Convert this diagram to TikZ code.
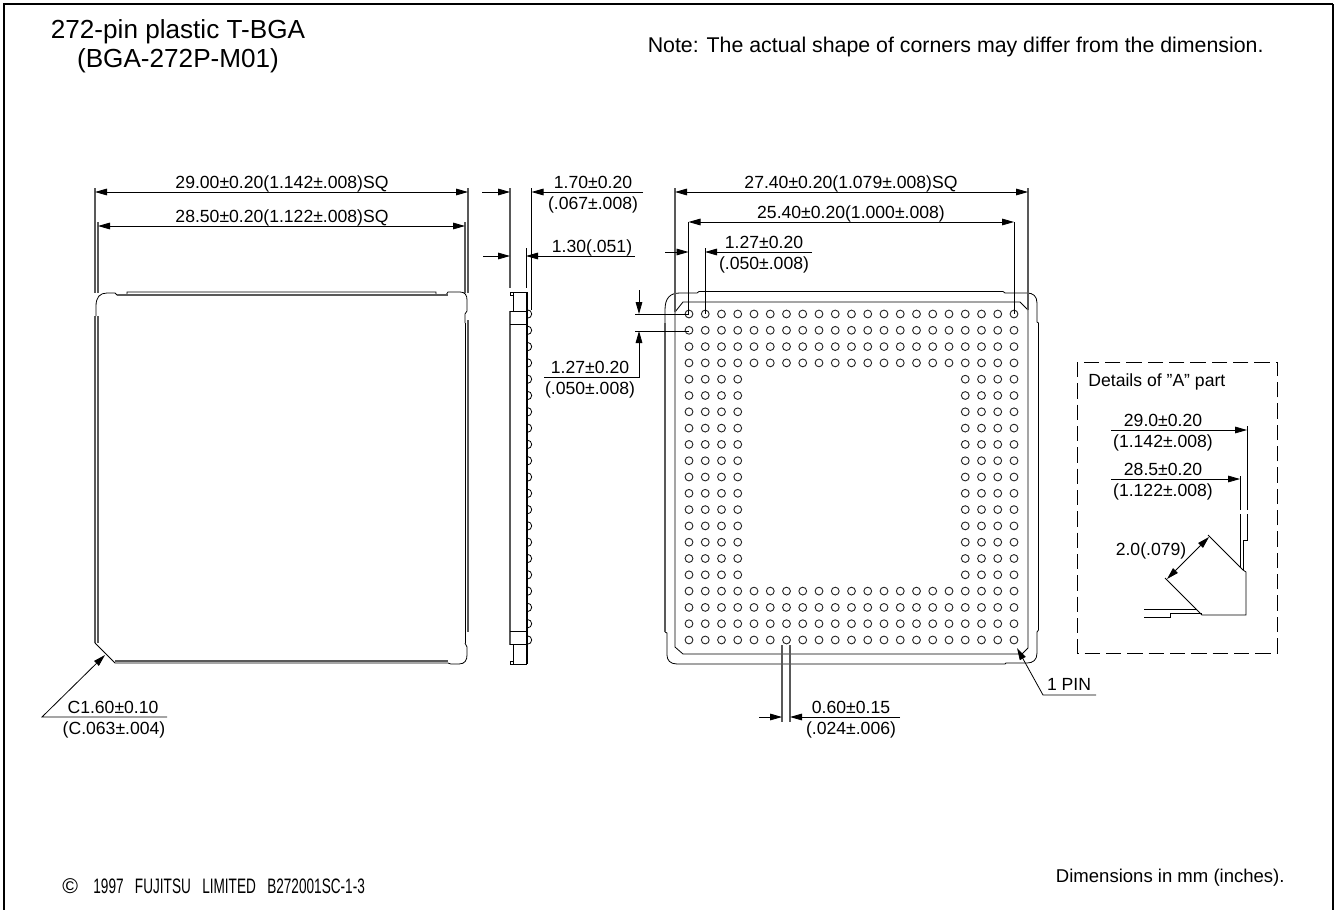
\documentclass[tikz,border=0pt]{standalone}
\usepackage{fontspec}
\setmainfont{Liberation Sans}
\newfontfamily\narrowfont[FakeStretch=0.65]{Liberation Sans}
\usetikzlibrary{arrows.meta}

\begin{document}
\begin{tikzpicture}[x=.75pt,y=-.75pt,line width=.6pt,
	lbl/.style={anchor=base,inner sep=0pt,font=\fontsize{13.2}{15}\selectfont},
	big/.style={anchor=base,inner sep=0pt,font=\fontsize{19.6}{22}\selectfont},
	ext/.style={line width=.8pt,black!65},
	dim/.style={-{Triangle[length=9pt,width=5pt]}},
	twodim/.style={{Triangle[length=9pt,width=5pt]}-{Triangle[length=9pt,width=5pt]}}]
		\useasboundingbox (0,0) rectangle (1335,910);
		% frame
		\draw[line width=1.8pt] (4,910) -- (4,4) -- (1333,4);
		\draw[line width=1pt] (1333,4) -- (1333,910);
		% headings
		\node[big] (title) at (178,38) {272-pin plastic T-BGA};
		\node[big] (code) at (178,67) {(BGA-272P-M01)};
		\node[lbl,anchor=base east,font=\fontsize{16}{18}\selectfont] (note) at (1264,52) {Note: The actual shape of corners may differ from the dimension.};
		\node[lbl,anchor=base east,font=\fontsize{13.9}{16}\selectfont] (units) at (1285,882) {Dimensions in mm (inches).};
		\node[lbl,anchor=base west,font=\fontsize{16}{18}\selectfont] (copy) at (62,893) {©};
		\node[lbl,anchor=base west,font=\narrowfont\fontsize{15.7}{18}\selectfont] (firm) at (93,893) {1997\ \ \ FUJITSU\ \ \ LIMITED\ \ \ B272001SC-1-3};
		% top view
		\draw[ext] (95,188) -- (95,293) (95,316) -- (95,643) (98,222) -- (98,293) (98,316) -- (98,643);
		\draw[ext] (468,188) -- (468,293) (468,320) -- (468,632) (465,222) -- (465,293);
		\draw (465,323) -- (465,643);
		\draw (96,316) -- (96,306) .. controls (96,297) and (100,293) .. (107,293) -- (115,293) -- (117,295) -- (127,295) -- (127,292) -- (436,292)
		-- (436,295) -- (446,295) -- (448,292) -- (460,292) .. controls (465,292) and (467,295) .. (467,300) -- (467,311) -- (465,314) -- (465,323);
		\draw[ext] (117,295) -- (448,295);
		\draw (95,643) -- (115,663) -- (448,663) -- (451,664) -- (459,664) .. controls (465,664) and (467,660) .. (467,655) -- (467,647) -- (465,643);
		\draw[ext] (115,661) -- (448,661);
		% side view
		\draw[ext] (510,188) -- (510,288) (510,311) -- (510,645);
		\draw (531.5,188) -- (531.5,310);
		\draw (526,248) -- (526,288);
		\draw (510,295) -- (510,292) -- (527,292) (510,295) -- (513,295) -- (513,292) (513,295) -- (513,311);
		\draw (510,311) -- (527,311) (510,324) -- (527,324) (510,631) -- (527,631) (510,644) -- (527,644);
		\draw (513,644) -- (513,664) (510,661) -- (513,661) (510,661) -- (510,664) -- (527,664);
		\draw[line width=1.1pt] (527,292) -- (527,664);
		\foreach \n in {0,...,20}
			\draw (527.5,314+16.3*\n-4.2) arc (-90:90:4.2);
		% bottom view
		\draw (665,323) -- (665,310) .. controls (665,298) and (670,293) .. (680,293) -- (697,293) -- (699,291.5) -- (1003,291.5) -- (1005,293) -- (1027,293)
		.. controls (1033,293) and (1037,296) .. (1037,303) -- (1037,322) -- (1038.5,323) -- (1038.5,630) -- (1037,632) -- (1037,653) .. controls (1037,660) and (1033,663) .. (1027,663)
		-- (1006,663) -- (1005,664) -- (677,664) .. controls (670,664) and (667,660) .. (667,655) -- (667,633) -- (665,632);
		\draw[ext] (665,323) -- (665,632);
		\draw (675,312) -- (683,302) -- (1020,302) -- (1028,310) -- (1028,648) -- (1022,654) -- (683,654) -- (675,647) -- cycle;
		\foreach \i in {0,...,20}
			\foreach \j in {0,...,20} {
				\pgfmathtruncatemacro\hole{and(and(\i>3,\i<17),and(\j>3,\j<17))}
				\ifnum\hole=0 \draw[line width=.7pt,black!85] (689+16.25*\i,314+16.3*\j) circle (3.9); \fi
			}
		% width dimensions
		\draw[ext] (675,188) -- (675,312) (1028,188) -- (1028,310);
		\draw (688.5,222) -- (688.5,314) (1014,222) -- (1014,314) (705,248) -- (705,314);
		\draw[ext] (782,645) -- (782,722) (790,645) -- (790,722);
		\draw[twodim] (95,192) -- (468,192);
		\node[lbl] (w1) at (282,188) {29.00±0.20(1.142±.008)SQ};
		\draw[twodim] (98,226) -- (465,226);
		\node[lbl] (w2) at (282,222) {28.50±0.20(1.122±.008)SQ};
		\draw[twodim] (675,192) -- (1028,192);
		\node[lbl] (w3) at (851,188) {27.40±0.20(1.079±.008)SQ};
		\draw[twodim] (688.5,222) -- (1014,222);
		\node[lbl] (w4) at (851,218) {25.40±0.20(1.000±.008)};
		% thickness
		\draw[dim] (482,192) -- (510,192);
		\draw[dim] (643,192) -- (531.5,192);
		\node[lbl] (t1) at (593,188) {1.70±0.20};
		\node[lbl] (t2) at (593,209) {(.067±.008)};
		\draw[dim] (483,256) -- (510,256);
		\draw[dim] (635,256) -- (526,256);
		\node[lbl] (t3) at (592,252) {1.30(.051)};
		% pin pitch
		\draw[dim] (665,252) -- (688.5,252);
		\draw[dim] (812,252) -- (705,252);
		\node[lbl] (p1) at (764,248) {1.27±0.20};
		\node[lbl] (p2) at (764,269) {(.050±.008)};
		\draw (635,314) -- (689,314) (635,331) -- (689,331);
		\draw[dim] (639,290) -- (639,314);
		\draw[dim] (544,377) -- (639,377) -- (639,331);
		\node[lbl] (p3) at (590,373) {1.27±0.20};
		\node[lbl] (p4) at (590,394) {(.050±.008)};
		% ball size
		\draw[dim] (759,717) -- (782,717);
		\draw[dim] (900,717) -- (790,717);
		\node[lbl] (b1) at (851,713) {0.60±0.15};
		\node[lbl] (b2) at (851,734) {(.024±.006)};
		% first pin
		\draw[dim] (1096,695) -- (1043,695) -- (1017,648);
		\node[lbl] (pin) at (1069,690) {1 PIN};
		% chamfer
		\draw[dim] (167,717) -- (42,717) -- (105,655);
		\node[lbl] (c1) at (113,713) {C1.60±0.10};
		\node[lbl] (c2) at (114,734) {(C.063±.004)};
		% details of A
		\draw[dash pattern=on 11.5pt off 4.5pt] (1077,362) rectangle (1277,653);
		\node[lbl,anchor=base west] (part) at (1088,386) {Details of {\char34}A{\char34} part};
		\draw[dim] (1111,430) -- (1247,430);
		\node[lbl] (d1) at (1163,426) {29.0±0.20};
		\node[lbl] (d2) at (1163,447) {(1.142±.008)};
		\draw[dim] (1111,479) -- (1240,479);
		\node[lbl] (d3) at (1163,475) {28.5±0.20};
		\node[lbl] (d4) at (1163,496) {(1.122±.008)};
		\draw (1247,426) -- (1247,510) (1247,514) -- (1247,540) -- (1243,540) -- (1243,570);
		\draw (1240,476) -- (1240,510) (1240,514) -- (1240,567);
		\draw (1208,535) -- (1243,570) -- (1246,572) -- (1246,615) -- (1202,615) -- (1165,578);
		\draw (1144,609) -- (1196,609) (1144,617) -- (1170,617) -- (1170,613) -- (1202,613);
		\draw[twodim] (1167,579) -- (1209,537);
		\node[lbl] (d5) at (1151,555) {2.0(.079)};
\end{tikzpicture}
\end{document}
